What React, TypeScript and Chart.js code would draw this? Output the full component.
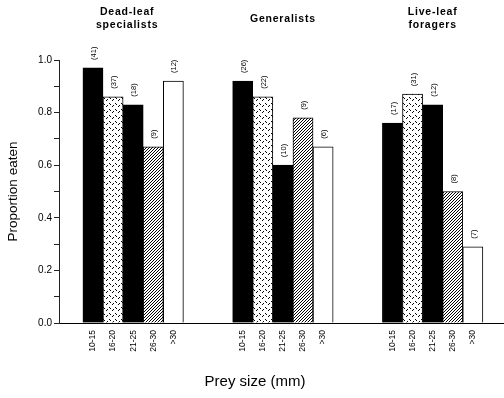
import React, { useEffect, useRef } from 'react';
import { Chart, registerables } from 'chart.js';

Chart.register(...registerables);

// ---- data ----
const sizeClasses = ['10-15', '16-20', '21-25', '26-30', '>30'];
const groupTitles = [['Dead-leaf', 'specialists'], ['Generalists'], ['Live-leaf', 'foragers']];
const deadLeafValues = [0.97, 0.86, 0.83, 0.67, 0.92];
const generalistValues = [0.92, 0.86, 0.6, 0.78, 0.67];
const liveLeafValues = [0.76, 0.87, 0.83, 0.5, 0.29];
const deadLeafCounts = [41, 37, 18, 9, 12];
const generalistCounts = [26, 22, 10, 9, 6];
const liveLeafCounts = [17, 31, 12, 8, 7];
const yTickLabels = ['0.0', '0.2', '0.4', '0.6', '0.8', '1.0'];
const yAxisTitle = 'Proportion eaten';
const xAxisTitle = 'Prey size (mm)';

const groupValues = [deadLeafValues, generalistValues, liveLeafValues];
const groupCounts = [deadLeafCounts, generalistCounts, liveLeafCounts];

// layout constants (not data)
const GROUP_STEP = 7.45;
const FONT = '"Liberation Sans", Arial, Helvetica, sans-serif';

function makePattern(kind: string): CanvasPattern | string {
  const c = document.createElement('canvas');
  const ctx = c.getContext('2d')!;
  if (kind === 'dash') {
    c.width = 6; c.height = 6;
    ctx.fillStyle = '#fff';
    ctx.fillRect(0, 0, 6, 6);
    ctx.fillStyle = '#000';
    ctx.fillRect(1, 1, 1, 1);
    ctx.fillRect(2, 2, 1, 1);
    ctx.fillRect(4, 4, 1, 1);
    ctx.fillRect(5, 3, 1, 1);
  } else if (kind === 'hatch') {
    c.width = 3; c.height = 3;
    ctx.fillStyle = '#fff';
    ctx.fillRect(0, 0, 3, 3);
    ctx.fillStyle = '#000';
    ctx.fillRect(2, 0, 1, 1);
    ctx.fillRect(1, 1, 1, 1);
    ctx.fillRect(0, 2, 1, 1);
  }
  const p = ctx.createPattern(c, 'repeat');
  return p || '#888';
}

const annotatePlugin = {
  id: 'annotate',
  afterDatasetsDraw(chart: any) {
    const ctx: CanvasRenderingContext2D = chart.ctx;
    const xs = chart.scales.x;
    ctx.save();
    ctx.fillStyle = '#000';
    // counts above bars
    chart.data.datasets.forEach((_ds: any, di: number) => {
      const meta = chart.getDatasetMeta(di);
      meta.data.forEach((bar: any, i: number) => {
        ctx.save();
        ctx.translate(bar.x + 1, bar.y - 8);
        ctx.rotate(-Math.PI / 2);
        ctx.font = `7.5px ${FONT}`;
        ctx.textAlign = 'left';
        ctx.textBaseline = 'middle';
        ctx.fillText(`(${groupCounts[di][i]})`, 0, 0);
        ctx.restore();
      });
    });
    // group titles
    ctx.font = `bold 10.5px ${FONT}`;
    (ctx as any).letterSpacing = '0.8px';
    ctx.textAlign = 'center';
    ctx.textBaseline = 'middle';
    groupTitles.forEach((lines, g) => {
      const cx = xs.getPixelForValue(g * GROUP_STEP + 2);
      if (lines.length === 1) {
        ctx.fillText(lines[0], cx, 19);
      } else {
        lines.forEach((t, k) => ctx.fillText(t, cx - (g === 0 ? 6 : 0), 12 + k * 13));
      }
    });
    (ctx as any).letterSpacing = '0px';
    // x axis title
    ctx.font = `15px ${FONT}`;
    ctx.fillText(xAxisTitle, 255, 382);
    ctx.restore();
  },
};

export default function App() {
  const ref = useRef<HTMLCanvasElement>(null);
  useEffect(() => {
    document.body.style.margin = '0';
    const dash = makePattern('dash');
    const hatch = makePattern('hatch');
    const fills = ['#000', dash, '#000', hatch, '#fff'];
    const tickPositions: number[] = [];
    groupValues.forEach((_v, g) => sizeClasses.forEach((_s, i) => tickPositions.push(g * GROUP_STEP + i)));

    const chart = new Chart(ref.current!, {
      type: 'bar',
      data: {
        datasets: groupValues.map((vals, g) => ({
          label: groupTitles[g].join(' '),
          data: vals.map((v, i) => ({ x: g * GROUP_STEP + i, y: v })),
          backgroundColor: fills as any,
          borderColor: '#000',
          borderWidth: 1,
          grouped: false,
          barPercentage: 1,
          categoryPercentage: 1,
        })) as any,
      },
      options: {
        responsive: false,
        animation: false,
        layout: { padding: { top: 60, right: 0, left: 0, bottom: 0 } },
        plugins: { legend: { display: false }, tooltip: { enabled: false } },
        scales: {
          x: {
            type: 'linear',
            offset: false,
            min: -1.69,
            max: 20.45,
            afterBuildTicks: (scale: any) => {
              scale.ticks = tickPositions.map((value) => ({ value }));
            },
            afterFit: (scale: any) => {
              scale.height = 75;
            },
            grid: { display: false, drawTicks: false, offset: false },
            border: { display: true, color: '#000', width: 1 },
            ticks: {
              autoSkip: false,
              maxRotation: 90,
              minRotation: 90,
              padding: 7,
              color: '#000',
              font: { size: 8.5, family: FONT },
              callback: (_v: any, i: number) => sizeClasses[i % sizeClasses.length],
            },
          },
          y: {
            min: 0,
            max: 1,
            afterFit: (scale: any) => {
              scale.width = 59;
            },
            grid: { drawOnChartArea: false, drawTicks: true, tickLength: 5, color: '#222' },
            border: { display: true, color: '#222', width: 1 },
            ticks: {
              stepSize: 0.1,
              padding: 2,
              color: '#000',
              font: { size: 10, family: FONT },
              callback: (v: any) => {
                const t = Math.round(Number(v) * 10);
                return t % 2 === 0 ? yTickLabels[t / 2] : '';
              },
            },
            title: {
              display: true,
              text: yAxisTitle,
              color: '#000',
              font: { size: 13.5, family: FONT },
              padding: { top: 5, bottom: 0 },
            },
          },
        },
      },
      plugins: [annotatePlugin],
    } as any);
    return () => chart.destroy();
  }, []);
  return <canvas ref={ref} width={504} height={398} style={{ display: 'block' }} />;
}
